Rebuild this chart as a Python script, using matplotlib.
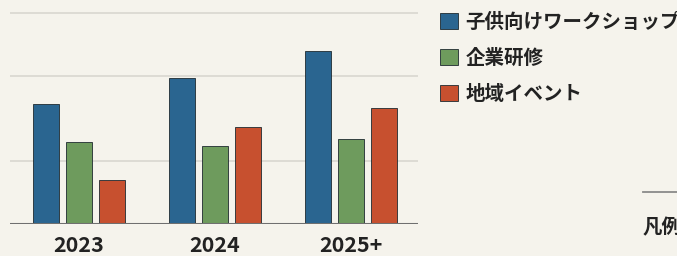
import numpy as np
import matplotlib.pyplot as plt

plt.rcParams['font.family'] = ['Noto Sans CJK JP', 'DejaVu Sans']

years = ['2023', '2024', '2025+']
series = ['子供向けワークショップ', '企業研修', '地域イベント']
kids = [57, 69, 82]
corp = [39, 37, 40]
local = [21, 46, 55]
grid_vals = [30, 70, 100]
colors = ['#2a6590', '#6e9b5d', '#c7502f']

W, H = 677, 256
fig = plt.figure(figsize=(W/100, H/100), dpi=100)
bg = '#f5f3ec'
fig.patch.set_facecolor(bg)

# axes placed in pixel terms
ax = fig.add_axes([10/W, (H-224)/H, (418-10)/W, 224/H])
ax.set_facecolor(bg)

x = np.arange(len(years))
w = 0.19
step = 0.243
bars = []
for i, (vals, c) in enumerate(zip([kids, corp, local], colors)):
    b = ax.bar(x + (i-1)*step, vals, width=w, color=c, edgecolor='#1e2a30',
               linewidth=0.6, label=series[i], zorder=3)
    bars.append(b)

for g in grid_vals:
    ax.axhline(g, color='#d9d7d0', linewidth=1.2, zorder=1)
ax.axhline(0, color='#6f6f6f', linewidth=2.2, zorder=4)

ax.set_xlim(-0.507, 2.49)
ax.set_ylim(0, 106)
ax.set_xticks(x)
ax.set_xticklabels(years, fontsize=15.5, fontweight='bold', color='#222222')
ax.tick_params(axis='x', length=0, pad=8)
ax.set_yticks([])
for s in ax.spines.values():
    s.set_visible(False)

leg = fig.legend(handles=bars, labels=series, loc='upper left',
                 bbox_to_anchor=(440/W, 1 - 13/H), bbox_transform=fig.transFigure,
                 frameon=False, borderpad=0, borderaxespad=0,
                 handlelength=0.9, handleheight=0.9,
                 handletextpad=0.4, labelspacing=0.86,
                 prop={'family': ['Noto Sans CJK JP', 'DejaVu Sans'], 'size': 14, 'weight': 'bold'})
for t in leg.get_texts():
    t.set_color('#222222')

# cropped note at bottom right
fig.add_artist(plt.Line2D([643/W, 1], [1 - 192/H, 1 - 192/H], color='#8a8a8a', linewidth=1.3))
fig.text(643/W, 1 - 228/H, '凡例', fontsize=14, fontweight='bold', color='#222222', va='center', ha='left')

fig.savefig('out.png', dpi=100, facecolor=bg)
